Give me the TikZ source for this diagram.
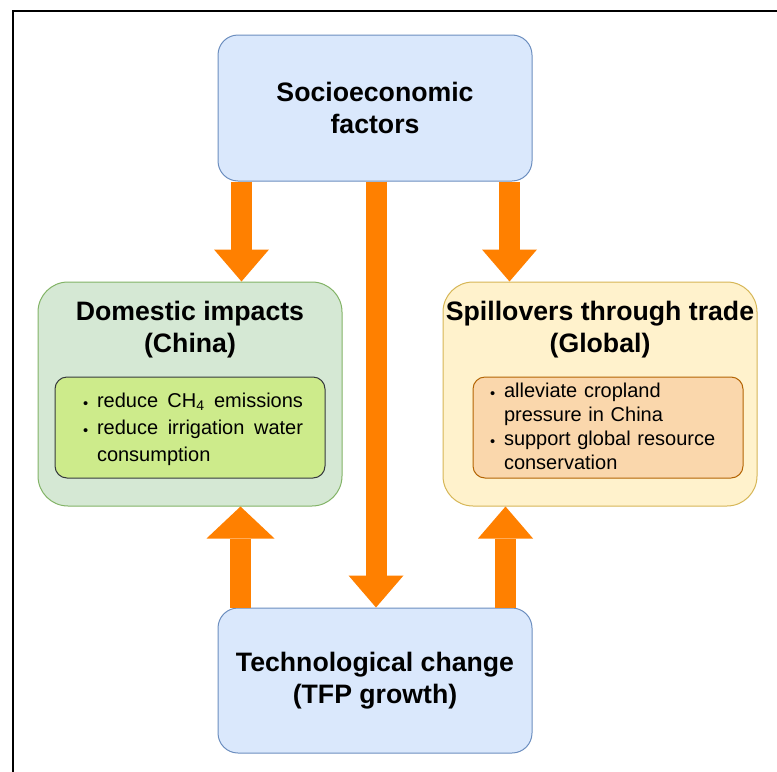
\documentclass[tikz,border=0pt]{standalone}
\usepackage{fontspec}
\setmainfont{Liberation Sans}
\usetikzlibrary{arrows.meta}
\definecolor{bluefill}{HTML}{DAE8FC}
\definecolor{bluedraw}{HTML}{6C8EBF}
\definecolor{greenfill}{HTML}{D5E8D4}
\definecolor{greendraw}{HTML}{82B366}
\definecolor{yellowfill}{HTML}{FFF2CC}
\definecolor{yellowdraw}{HTML}{D6B656}
\definecolor{limefill}{HTML}{CDEB8B}
\definecolor{limedraw}{HTML}{36393D}
\definecolor{peachfill}{HTML}{FAD7AC}
\definecolor{peachdraw}{HTML}{B46504}
\definecolor{arroworange}{HTML}{FF8000}
\newcommand{\smallbul}{{\fontsize{11}{11}\selectfont\raisebox{-0.8pt}{\textbullet}}}
\newcommand{\bitem}[1]{\par\noindent\llap{\smallbul\hspace{6.5pt}}#1}
\tikzset{
  box/.style={draw, line width=0.75pt, inner sep=0pt},
  bluebox/.style={box, fill=bluefill, draw=bluedraw, rounded corners=15pt,
    minimum width=235.5pt, align=center,
    font=\fontsize{20}{24}\selectfont\bfseries},
  outerbox/.style={box, rounded corners=22.5pt, minimum height=168pt},
  innerbox/.style={box, rounded corners=9pt, minimum width=202.5pt, minimum height=75.75pt},
  titletext/.style={inner sep=0pt, align=center, font=\fontsize{20}{24}\selectfont\bfseries},
  listtext/.style={inner sep=0pt, font=\fontsize{15}{20.25}\selectfont},
  bigarrow/.style={draw=arroworange, line width=15.75pt,
    -{Triangle[width=41.25pt,length=24pt,line width=0pt]}},
  widearrow/.style={bigarrow, -{Triangle[width=51pt,length=24pt,line width=0pt]}}
}
\begin{document}
\begin{tikzpicture}[x=0.75pt,y=-0.75pt]
\useasboundingbox (0,0) rectangle (777,771);
\begin{scope}
\clip (0,0) rectangle (777,771);
\draw[line width=1.65pt] (13,800) -- (13,10.7) -- (800,10.7);
\end{scope}

% boxes
\node[bluebox, minimum height=109.5pt] (soc) at (375,108) {Socioeconomic\\factors};
\node[bluebox, minimum height=108.75pt] (tech) at (375,680.5) {Technological change\\(TFP growth)};
\node[outerbox, fill=greenfill, draw=greendraw, minimum width=228pt] (dom) at (190,394) {};
\node[outerbox, fill=yellowfill, draw=yellowdraw, minimum width=235.5pt] (spill) at (600,394) {};
\node[innerbox, fill=limefill, draw=limedraw] (dominner) at (190,427.5) {};
\node[innerbox, fill=peachfill, draw=peachdraw] (spillinner) at (608,427.5) {};

% titles
\node[titletext] (domtitle) at (190,330) {Domestic impacts\\(China)};
\node[titletext] (spilltitle) at (600,330) {Spillovers through trade\\(Global)};

% lists
\node[listtext, text width=154.5pt, align=justify] (domtext) at ([xshift=7.5pt,yshift=3.5pt]dominner.center)
  {\bitem{\makebox[\linewidth][s]{reduce CH\textsubscript{4} emissions}}\bitem{reduce irrigation water consumption}};
\node[listtext, text width=165pt, align=left, font={\fontsize{15}{18.2}\selectfont}] (spilltext) at ([xshift=4.5pt,yshift=4.5pt]spillinner.center)
  {\bitem{alleviate cropland\newline pressure in China}\bitem{support global resource\newline conservation}};

% arrow positions
\coordinate (xa) at (241.5,0);
\coordinate (xm) at (376,0);
\coordinate (xr) at (509.5,0);
\coordinate (xbl) at (240.5,0);
\coordinate (xbr) at (505.5,0);

\draw[bigarrow] (soc.south -| xa) -- (dom.north -| xa);
\draw[bigarrow] (soc.south -| xm) -- (tech.north -| xm);
\draw[bigarrow] (soc.south -| xr) -- (spill.north -| xr);
\draw[widearrow] (tech.north -| xbl) -- (dom.south -| xbl);
\draw[bigarrow] (tech.north -| xbr) -- (spill.south -| xbr);
\end{tikzpicture}
\end{document}
